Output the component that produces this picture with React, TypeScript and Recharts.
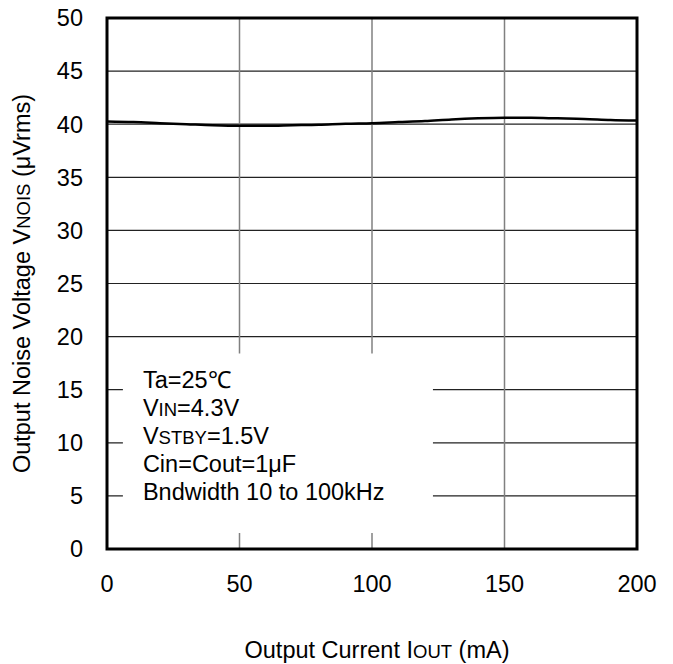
import React from "react";
import {
  LineChart,
  Line,
  XAxis,
  YAxis,
  CartesianGrid,
  ReferenceArea,
} from "recharts";

const currents = [0, 10, 20, 30, 40, 50, 60, 70, 80, 90, 100, 110, 120, 130, 140, 150, 160, 170, 180, 190, 200];
const noise = [40.25, 40.2, 40.1, 40.0, 39.9, 39.85, 39.85, 39.9, 39.95, 40.05, 40.1, 40.2, 40.3, 40.45, 40.55, 40.6, 40.6, 40.55, 40.5, 40.4, 40.35];
const xTicks = [0, 50, 100, 150, 200];
const yTicks = [0, 5, 10, 15, 20, 25, 30, 35, 40, 45, 50];

const data = currents.map((c, i) => ({ iout: c, vnois: noise[i] }));

const FONT = "'Liberation Sans', Arial, Helvetica, sans-serif";
const BIG = 23.5;
const SMALL = 18.5;

function LegendText(props: any) {
  const vb = props.viewBox || {};
  const x = vb.x + 20;
  const y0 = vb.y + 34;
  const step = 28.2;
  const style = { fontFamily: FONT, fontSize: BIG, fill: "#000" };
  return (
    <g>
      <text x={x} y={y0} style={style}>Ta=25℃</text>
      <text x={x} y={y0 + step} style={style}>
        V<tspan fontSize={SMALL}>IN</tspan>=4.3V
      </text>
      <text x={x} y={y0 + step * 2} style={style}>
        V<tspan fontSize={SMALL}>STBY</tspan>=1.5V
      </text>
      <text x={x} y={y0 + step * 3} style={style}>Cin=Cout=1μF</text>
      <text x={x} y={y0 + step * 4} style={style}>Bndwidth 10 to 100kHz</text>
    </g>
  );
}

function XTitle(props: any) {
  const vb = props.viewBox || {};
  return (
    <text
      x={vb.x + vb.width / 2 + 5}
      y={vb.y + 109}
      textAnchor="middle"
      style={{ fontFamily: FONT, fontSize: BIG, fill: "#000" }}
    >
      Output Current I<tspan fontSize={SMALL}>OUT</tspan> (mA)
    </text>
  );
}

function YTitle(props: any) {
  const vb = props.viewBox || {};
  const cx = 30;
  const cy = vb.y + vb.height / 2;
  return (
    <text
      x={cx}
      y={cy}
      textAnchor="middle"
      transform={`rotate(-90 ${cx} ${cy})`}
      style={{ fontFamily: FONT, fontSize: BIG, fill: "#000" }}
    >
      Output Noise Voltage V<tspan fontSize={SMALL}>NOIS</tspan> (μVrms)
    </text>
  );
}

export default function App() {
  return (
    <div style={{ position: "absolute", left: 0, top: 0, width: 673, height: 664, background: "#fff" }}>
      <LineChart
        width={673}
        height={664}
        data={data}
        margin={{ top: 18, right: 36, left: 0, bottom: 0 }}
      >
        <CartesianGrid horizontal={true} vertical={false} stroke="#222" strokeWidth={1.2} />
        <CartesianGrid horizontal={false} vertical={true} stroke="#808080" strokeWidth={1.5} />
        <XAxis
          dataKey="iout"
          type="number"
          domain={[0, 200]}
          ticks={xTicks}
          axisLine={false}
          tickLine={false}
          tickSize={0}
          tickMargin={26}
          height={115}
          tick={{ fill: "#000", fontSize: BIG, fontFamily: FONT }}
          label={<XTitle />}
        />
        <YAxis
          type="number"
          domain={[0, 50]}
          ticks={yTicks}
          axisLine={false}
          tickLine={false}
          tickSize={0}
          tickMargin={24}
          width={107}
          tick={{ fill: "#000", fontSize: BIG, fontFamily: FONT }}
          label={<YTitle />}
        />
        <ReferenceArea
          x1={6}
          x2={123}
          y1={1.5}
          y2={18.4}
          fill="#fff"
          fillOpacity={1}
          stroke="none"
          label={<LegendText />}
        />
        <Line
          type="monotone"
          dataKey="vnois"
          stroke="#000"
          strokeWidth={2.5}
          dot={false}
          activeDot={false}
          isAnimationActive={false}
        />
        <ReferenceArea
          x1={0}
          x2={200}
          y1={0}
          y2={50}
          fill="none"
          stroke="#000"
          strokeWidth={3}
          ifOverflow="visible"
        />
      </LineChart>
    </div>
  );
}
